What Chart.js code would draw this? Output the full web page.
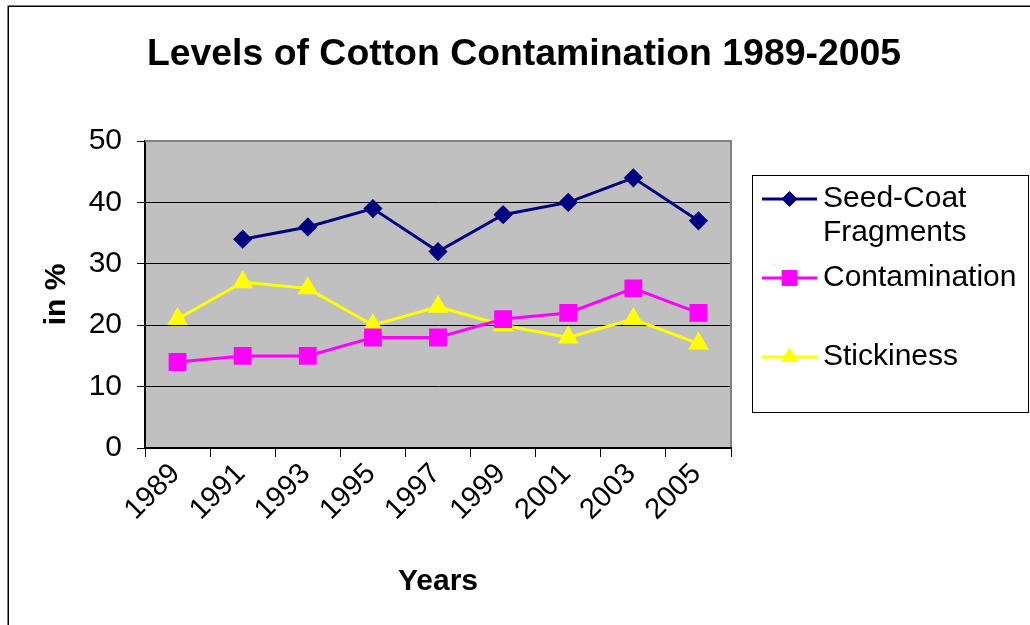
<!DOCTYPE html>
<html>
<head>
<meta charset="utf-8">
<script src="https://cdn.jsdelivr.net/npm/chart.js@4/dist/chart.umd.min.js"></script>
<style>
html,body{margin:0;padding:0;background:#fff;}
#wrap{width:1030px;height:625px;position:relative;}
</style>
</head>
<body>
<div id="wrap"><canvas id="c" width="1030" height="625"></canvas></div>
<script>
const categories = ['1989','1991','1993','1995','1997','1999','2001','2003','2005'];
const seedCoat = [null,34,36,39,32,38,40,44,37];
const contamination = [14,15,15,18,18,21,22,26,22];
const stickiness = [21,27,26,20,23,20,18,21,17];
const seriesNames = ['Seed-Coat Fragments','Contamination','Stickiness'];
const legendLines = [['Seed-Coat','Fragments'],['Contamination'],['Stickiness']];
const yTicks = [0,10,20,30,40,50];
const chartTitle = 'Levels of Cotton Contamination 1989-2005';
const xTitle = 'Years';
const yTitle = 'in %';

const FONT = "'Liberation Sans', Arial, sans-serif";

const framePlugin = {
  id: 'frame',
  beforeDraw(chart) {
    const ctx = chart.ctx, a = chart.chartArea;
    ctx.save();
    ctx.fillStyle = '#fff';
    ctx.fillRect(0, 0, chart.width, chart.height);
    ctx.strokeStyle = '#000';
    ctx.lineWidth = 1.5;
    ctx.strokeRect(8.25, 6.25, chart.width + 20, chart.height + 20);
    ctx.fillStyle = '#C0C0C0';
    ctx.fillRect(a.left, a.top, a.right - a.left, a.bottom - a.top);
    // title
    ctx.fillStyle = '#000';
    ctx.font = "bold 37.4px " + FONT;
    ctx.textAlign = 'center';
    ctx.textBaseline = 'alphabetic';
    ctx.fillText(chartTitle, 524, 65);
    ctx.restore();
  },
  afterDraw(chart) {
    const ctx = chart.ctx, a = chart.chartArea;
    ctx.save();
    ctx.strokeStyle = '#808080';
    ctx.lineWidth = 2;
    ctx.beginPath();
    ctx.moveTo(a.left, a.top);
    ctx.lineTo(a.right, a.top);
    ctx.lineTo(a.right, a.bottom - 1);
    ctx.stroke();
    // legend
    ctx.strokeStyle = '#000';
    ctx.lineWidth = 1;
    ctx.strokeRect(752.5, 175.5, 276, 237);
    const rowsY = [199, 278, 357];
    ctx.font = "30px " + FONT;
    ctx.textBaseline = 'middle';
    ctx.textAlign = 'left';
    chart.data.datasets.forEach((ds, i) => {
      const y = rowsY[i];
      ctx.strokeStyle = ds.borderColor;
      ctx.lineWidth = ds.borderWidth;
      ctx.beginPath();
      ctx.moveTo(762, y);
      ctx.lineTo(817, y);
      ctx.stroke();
      ctx.fillStyle = ds.pointBackgroundColor;
      ctx.strokeStyle = ds.pointBorderColor;
      ctx.lineWidth = 1;
      Chart.helpers.drawPoint(ctx, {pointStyle: ds.pointStyle, radius: ds.pointRadius, rotation: 0, borderWidth: 1}, 789.5, y);
      ctx.fillStyle = '#000';
      legendLines[i].forEach((t, k) => ctx.fillText(t, 823, y + k * 34));
    });
    ctx.restore();
  }
};

new Chart(document.getElementById('c'), {
  type: 'line',
  data: {
    labels: categories,
    datasets: [
      {label: seriesNames[0], data: seedCoat, borderColor: '#000080', backgroundColor: '#000080',
       pointBackgroundColor: '#000080', pointBorderColor: '#000080', pointStyle: 'rectRot', pointRadius: 7.5, borderWidth: 3, tension: 0},
      {label: seriesNames[1], data: contamination, borderColor: '#FF00FF', backgroundColor: '#FF00FF',
       pointBackgroundColor: '#FF00FF', pointBorderColor: '#FF00FF', pointStyle: 'rect', pointRadius: 10.5, borderWidth: 3, tension: 0},
      {label: seriesNames[2], data: stickiness, borderColor: '#FFFF00', backgroundColor: '#FFFF00',
       pointBackgroundColor: '#FFFF00', pointBorderColor: '#FFFF00', pointStyle: 'triangle', pointRadius: 9, borderWidth: 3, tension: 0}
    ]
  },
  options: {
    responsive: false,
    animation: false,
    devicePixelRatio: 1,
    layout: {padding: {left: 0, right: 299, top: 141, bottom: 0}},
    plugins: {
      legend: {display: false},
      tooltip: {enabled: false},
      title: {display: false}
    },
    scales: {
      x: {
        offset: true,
        afterFit(scale) { scale.height = 177; },
        grid: {offset: true, drawOnChartArea: false, drawTicks: true, tickLength: 9, tickColor: '#000', lineWidth: 1},
        border: {display: true, color: '#000', width: 2},
        ticks: {color: '#000', font: {family: FONT, size: 29}, minRotation: 45, maxRotation: 45, autoSkip: false, padding: 0, labelOffset: -2},
        title: {display: true, text: xTitle, color: '#000', font: {family: FONT, size: 30, weight: 'bold'}, padding: {top: 0, bottom: 25.5}}
      },
      y: {
        min: 0, max: 50,
        afterFit(scale) { scale.width = 145; },
        afterBuildTicks(scale) { scale.ticks = yTicks.map(v => ({value: v})); },
        grid: {color: '#000', lineWidth: 1, drawTicks: true, tickLength: 8, tickColor: '#000'},
        border: {display: true, color: '#000', width: 2},
        ticks: {color: '#000', font: {family: FONT, size: 30}, padding: 15},
        title: {display: true, text: yTitle, color: '#000', font: {family: FONT, size: 30, weight: 'bold'}, padding: {top: 39, bottom: 0}}
      }
    }
  },
  plugins: [framePlugin]
});
</script>
</body>
</html>
